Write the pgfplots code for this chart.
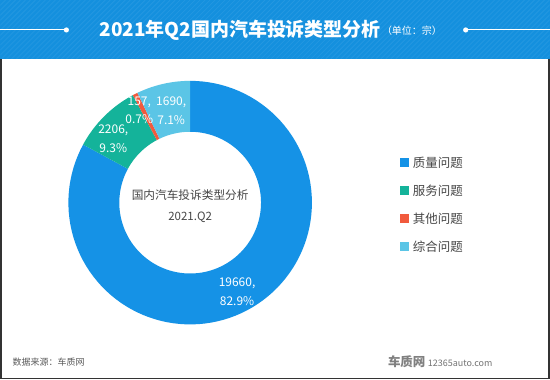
\documentclass[border=0pt]{standalone}
\usepackage{pgfplots}
\pgfplotsset{compat=1.18}
\usepackage{pgfplotstable}
\usepackage{xfp}
\usepackage{fontspec}
\setmainfont{Noto Sans CJK SC}
\definecolor{hdr}{RGB}{20,144,222}
\definecolor{cA}{RGB}{21,146,230}
\definecolor{cB}{RGB}{20,179,154}
\definecolor{cC}{RGB}{241,90,61}
\definecolor{cD}{RGB}{91,197,230}
\definecolor{txt}{RGB}{70,70,70}
\pgfplotstableread{
idx value
0 19660
1 2206
2 157
3 1690
}\piedata
\newcommand\slice[3]{%
 \addplot[fill=#3, draw=none, variable=\t, samples at={0,1,...,100,200,201,...,300}]
  ({190+((\t<150)?122:71)*cos((\t<150)?((#1)+((#2)-(#1))*\t/100):((#2)-((#2)-(#1))*(\t-200)/100))},
   {203-((\t<150)?122:71)*sin((\t<150)?((#1)+((#2)-(#1))*\t/100):((#2)-((#2)-(#1))*(\t-200)/100))});
}
\begin{document}
\pgfplotstablegetelem{0}{value}\of\piedata\edef\vA{\pgfplotsretval}%
\pgfplotstablegetelem{1}{value}\of\piedata\edef\vB{\pgfplotsretval}%
\pgfplotstablegetelem{2}{value}\of\piedata\edef\vC{\pgfplotsretval}%
\pgfplotstablegetelem{3}{value}\of\piedata\edef\vD{\pgfplotsretval}%
\edef\T{\fpeval{\vA+\vB+\vC+\vD}}%
\edef\aA{90}%
\edef\aB{\fpeval{round(90-360*\vA/\T,4)}}%
\edef\aC{\fpeval{round(90-360*(\vA+\vB)/\T,4)}}%
\edef\aD{\fpeval{round(90-360*(\vA+\vB+\vC)/\T,4)}}%
\edef\aE{-270}%
\begin{tikzpicture}
\fill[white] (0,0) rectangle (550bp,380bp);
\begin{axis}[
  xmin=0, xmax=550, ymin=0, ymax=380, y dir=reverse,
  width=550bp, height=380bp, scale only axis, hide axis, clip=false,
  at={(0,0)}, anchor=south west]
  % header
  \fill[hdr] (0,0) rectangle (550,59);
  \begin{scope}
    \clip (0,0) rectangle (550,59);
    \pgfplotsinvokeforeach{0,5,...,620}{\draw[white, opacity=0.07, line width=0.8bp] (#1,0) -- (#1-59,59);}
  \end{scope}
  \draw[white, line width=1bp] (0,30) -- (66,30);
  \fill[white] (66,30) circle (2.6bp);
  \draw[white, line width=1bp] (466,30) -- (550,30);
  \fill[white] (466,30) circle (2.6bp);
  \node[anchor=west, inner sep=0, text=white, font=\fontsize{19bp}{22bp}\selectfont\bfseries] at (99,30) {2021年Q2国内汽车投诉类型分析};
  \node[anchor=west, inner sep=0, text=white, font=\fontsize{10bp}{12bp}\selectfont] at (382,31) {（单位：宗）};
  % frame
  \draw[black!80, line width=1.5bp] (0.75,59) -- (0.75,379.25) -- (549.25,379.25) -- (549.25,59);
  % donut
  \slice{\aA}{\aB}{cA}
  \slice{\aB}{\aC}{cB}
  \slice{\aC}{\aD}{cC}
  \slice{\aD}{\aE}{cD}
  % slice labels
  \begin{scope}[every node/.style={text=white, align=center, inner sep=0, font=\fontsize{12bp}{19bp}\selectfont}]
  \node at (237,292) {19660,\\82.9\%};
  \node at (113,138.5) {2206,\\9.3\%};
  \node at (139,110.5) {157,\\0.7\%};
  \node at (171,110.5) {1690,\\7.1\%};
  \end{scope}
  % center text
  \node[text=txt, inner sep=0, font=\fontsize{11.7bp}{14bp}\selectfont] at (190,195) {国内汽车投诉类型分析};
  \node[text=txt, inner sep=0, font=\fontsize{11.5bp}{14bp}\selectfont] at (190,218) {2021.Q2};
  % legend
  \fill[cA] (400,158.5) rectangle (409,167.5);
  \fill[cB] (400,186.5) rectangle (409,195.5);
  \fill[cC] (400,214.5) rectangle (409,223.5);
  \fill[cD] (400,242.5) rectangle (409,251.5);
  \begin{scope}[every node/.style={anchor=west, inner sep=0, text=txt, font=\fontsize{12.5bp}{15bp}\selectfont}]
  \node at (413,163) {质量问题};
  \node at (413,191) {服务问题};
  \node at (413,219) {其他问题};
  \node at (413,247) {综合问题};
  \end{scope}
  % footer
  \node[anchor=west, inner sep=0, text=black!65, font=\fontsize{9bp}{11bp}\selectfont] at (12,363) {数据来源：车质网};
  \node[anchor=west, inner sep=0, text=black!50, font=\fontsize{12.5bp}{15bp}\selectfont\bfseries] at (388,362) {车质网};
  \node[anchor=west, inner sep=0, text=black!55, font=\fontsize{9bp}{11bp}\selectfont] at (428,364) {12365auto.com};
\end{axis}
\end{tikzpicture}
\end{document}
